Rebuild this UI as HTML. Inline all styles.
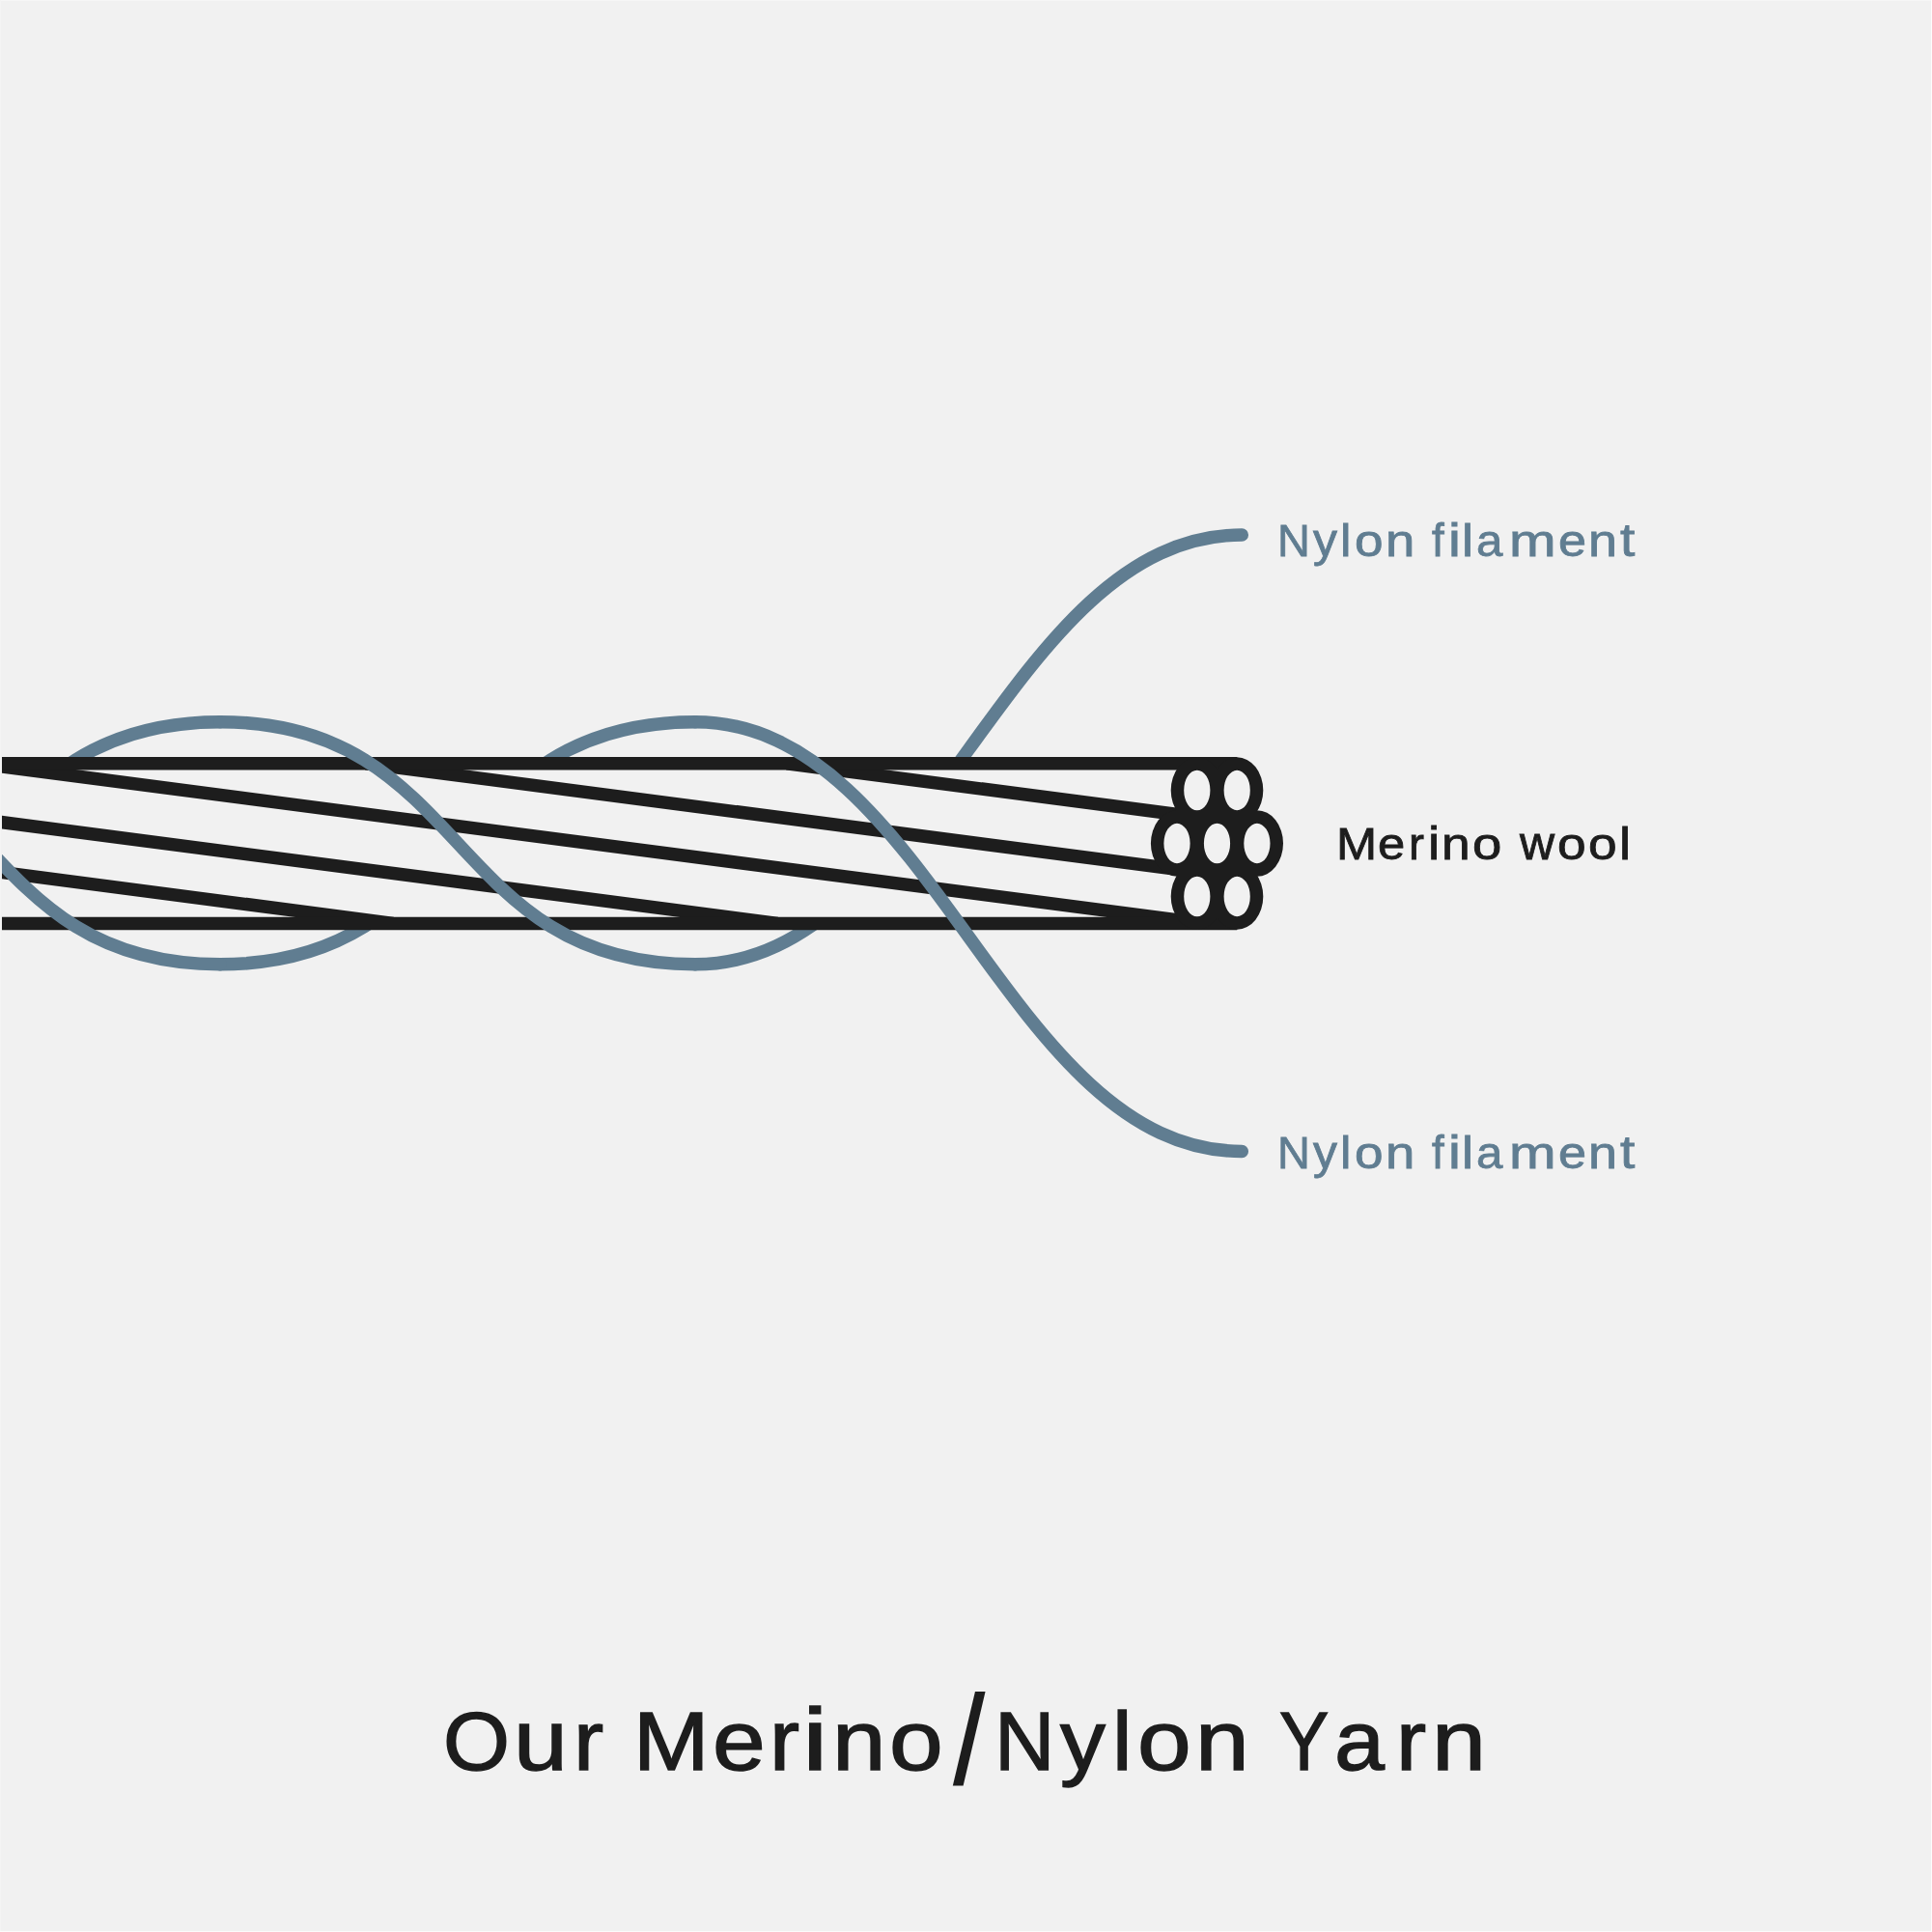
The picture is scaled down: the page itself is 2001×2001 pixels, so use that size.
<!DOCTYPE html>
<html><head><meta charset="utf-8"><style>
html,body{margin:0;padding:0;background:#f1f1f1;}
body{width:2001px;height:2001px;position:relative;overflow:hidden;font-family:"Liberation Sans",sans-serif;}
svg{position:absolute;left:0;top:0;}
#tx{position:absolute;left:0;top:0;width:2001px;height:2001px;will-change:transform;}
.t{position:absolute;white-space:pre;line-height:1;}
.t span{display:inline-block;transform-origin:0 var(--o);}
</style></head><body>
<svg width="2001" height="2001" viewBox="0 0 2001 2001">
<defs><clipPath id="cl"><rect x="2" y="0" width="1999" height="2001"/></clipPath></defs>
<g clip-path="url(#cl)">
<g fill="none" stroke="#607d91" stroke-width="13.5" stroke-linecap="round">
<path d="M-264.00,998.80 C-5.70,998.80 -30.30,747.70 228.00,747.70"/><path d="M228.00,998.80 C486.30,998.80 461.70,747.70 720.00,747.70"/><path d="M720.00,998.80 C964.40,998.80 1041.90,554.00 1286.30,554.00"/>
</g>
<rect x="0" y="790.7" width="1240" height="165.69999999999993" fill="#f1f1f1"/>
<g stroke="#1d1d1d" stroke-width="13.5" fill="none">
<clipPath id="yc"><rect x="0" y="783.95" width="1300" height="179.19999999999993"/></clipPath>
<g clip-path="url(#yc)"><line x1="-862.70" y1="790.7" x2="407.03" y2="956.4"/><line x1="-464.50" y1="790.7" x2="805.23" y2="956.4"/><line x1="-22.60" y1="790.7" x2="1247.13" y2="956.4"/><line x1="379.00" y1="790.7" x2="1648.73" y2="956.4"/><line x1="815.00" y1="790.7" x2="2084.73" y2="956.4"/></g>
<line x1="0" y1="790.7" x2="1281.2" y2="790.7"/>
<line x1="0" y1="956.4" x2="1281.2" y2="956.4"/>
</g>
<g fill="#1d1d1d"><path d="M1212.70,818.5 a27.1,34.2 0 1,0 54.20,0 a27.1,34.2 0 1,0 -54.20,0Z M1254.10,818.5 a27.1,34.2 0 1,0 54.20,0 a27.1,34.2 0 1,0 -54.20,0Z M1191.90,873.5 a27.1,34.2 0 1,0 54.20,0 a27.1,34.2 0 1,0 -54.20,0Z M1233.40,873.5 a27.1,34.2 0 1,0 54.20,0 a27.1,34.2 0 1,0 -54.20,0Z M1274.80,873.5 a27.1,34.2 0 1,0 54.20,0 a27.1,34.2 0 1,0 -54.20,0Z M1212.70,928.5 a27.1,34.2 0 1,0 54.20,0 a27.1,34.2 0 1,0 -54.20,0Z M1254.10,928.5 a27.1,34.2 0 1,0 54.20,0 a27.1,34.2 0 1,0 -54.20,0Z"/></g>
<g fill="#f1f1f1"><path d="M1226.20,818.5 a13.6,20.7 0 1,0 27.20,0 a13.6,20.7 0 1,0 -27.20,0Z M1267.60,818.5 a13.6,20.7 0 1,0 27.20,0 a13.6,20.7 0 1,0 -27.20,0Z M1205.40,873.5 a13.6,20.7 0 1,0 27.20,0 a13.6,20.7 0 1,0 -27.20,0Z M1246.90,873.5 a13.6,20.7 0 1,0 27.20,0 a13.6,20.7 0 1,0 -27.20,0Z M1288.30,873.5 a13.6,20.7 0 1,0 27.20,0 a13.6,20.7 0 1,0 -27.20,0Z M1226.20,928.5 a13.6,20.7 0 1,0 27.20,0 a13.6,20.7 0 1,0 -27.20,0Z M1267.60,928.5 a13.6,20.7 0 1,0 27.20,0 a13.6,20.7 0 1,0 -27.20,0Z"/></g>
<g fill="none" stroke="#607d91" stroke-width="13.5" stroke-linecap="round">
<path d="M-264.00,747.70 C-5.70,747.70 -30.30,998.80 228.00,998.80"/><path d="M228.00,747.70 C486.30,747.70 461.70,998.80 720.00,998.80"/><path d="M720.00,747.70 C964.40,747.70 1041.90,1192.40 1286.30,1192.40"/>
</g>
</g>
</svg>
<div id="tx"><div class="t" style="--o:39.372px;left:1322.657px;top:536.628px;font-size:46.5px;color:#607d91;-webkit-text-stroke:0.8px #607d91"><span style="transform:scale(1.0084,0.9817)">N</span><span style="margin-left:3.870px;transform:scale(1.0736,1.0173)">y</span><span style="margin-left:5.122px;transform:scale(1.1050,0.9855)">l</span><span style="margin-left:4.515px;transform:scale(1.1426,1.0070)">o</span><span style="margin-left:5.661px;transform:scale(1.1726,0.9992)">n</span><span> </span><span style="margin-left:9.217px;transform:scale(0.9826,1.0514)">f</span><span style="margin-left:3.951px;transform:scale(1.2482,1.0471)">i</span><span style="margin-left:3.865px;transform:scale(1.1664,0.9855)">l</span><span style="margin-left:4.892px;transform:scale(1.0573,1.0070)">a</span><span style="margin-left:7.931px;transform:scale(1.2552,0.9992)">m</span><span style="margin-left:12.470px;transform:scale(1.1229,1.0070)">e</span><span style="margin-left:4.895px;transform:scale(1.1580,0.9992)">n</span><span style="margin-left:6.992px;transform:scale(1.1835,1.0374)">t</span></div>
<div class="t" style="--o:39.372px;left:1383.787px;top:850.628px;font-size:46.5px;color:#1d1d1d;-webkit-text-stroke:0.8px #1d1d1d"><span style="transform:scale(1.0876,0.9910)">M</span><span style="margin-left:4.758px;transform:scale(1.0920,1.0031)">e</span><span style="margin-left:5.690px;transform:scale(1.0302,1.0031)">r</span><span style="margin-left:4.767px;transform:scale(1.1868,1.0383)">i</span><span style="margin-left:3.900px;transform:scale(1.1482,0.9952)">n</span><span style="margin-left:6.203px;transform:scale(1.1733,1.0031)">o</span><span> </span><span style="margin-left:9.945px;transform:scale(1.0763,1.0214)">w</span><span style="margin-left:5.435px;transform:scale(1.1470,1.0031)">o</span><span style="margin-left:6.139px;transform:scale(1.1470,1.0031)">o</span><span style="margin-left:6.332px;transform:scale(1.1664,0.9943)">l</span></div>
<div class="t" style="--o:39.372px;left:1322.657px;top:1170.628px;font-size:46.5px;color:#607d91;-webkit-text-stroke:0.8px #607d91"><span style="transform:scale(1.0084,0.9817)">N</span><span style="margin-left:3.870px;transform:scale(1.0736,1.0173)">y</span><span style="margin-left:5.122px;transform:scale(1.1050,0.9855)">l</span><span style="margin-left:4.515px;transform:scale(1.1426,1.0070)">o</span><span style="margin-left:5.661px;transform:scale(1.1726,0.9992)">n</span><span> </span><span style="margin-left:9.217px;transform:scale(0.9826,1.0514)">f</span><span style="margin-left:3.951px;transform:scale(1.2482,1.0471)">i</span><span style="margin-left:3.865px;transform:scale(1.1664,0.9855)">l</span><span style="margin-left:4.892px;transform:scale(1.0573,1.0070)">a</span><span style="margin-left:7.931px;transform:scale(1.2552,0.9992)">m</span><span style="margin-left:12.470px;transform:scale(1.1229,1.0070)">e</span><span style="margin-left:4.895px;transform:scale(1.1580,0.9992)">n</span><span style="margin-left:6.992px;transform:scale(1.1835,1.0374)">t</span></div>
<div class="t" style="--o:72.816px;left:459.320px;top:1760.184px;font-size:86.0px;color:#1d1d1d;-webkit-text-stroke:1.4px #1d1d1d"><span style="transform:scale(1.0315,0.9877)">O</span><span style="margin-left:6.081px;transform:scale(1.1678,1.0274)">u</span><span style="margin-left:13.827px;transform:scale(1.0873,1.0218)">r</span><span> </span><span style="margin-left:9.461px;transform:scale(1.0945,0.9922)">M</span><span style="margin-left:9.936px;transform:scale(1.1448,1.0176)">e</span><span style="margin-left:11.425px;transform:scale(1.0830,1.0261)">r</span><span style="margin-left:5.994px;transform:scale(1.3841,1.0505)">i</span><span style="margin-left:11.075px;transform:scale(1.1599,1.0197)">n</span><span style="margin-left:11.294px;transform:scale(1.1641,1.0218)">o</span><span style="margin-left:18.979px;transform:translateY(13.686px) scale(1.3126,1.5026)">/</span><span style="margin-left:18.499px;transform:scale(1.0053,0.9889)">N</span><span style="margin-left:5.816px;transform:scale(1.0904,1.0231)">y</span><span style="margin-left:11.306px;transform:scale(1.0716,0.9997)">l</span><span style="margin-left:6.564px;transform:scale(1.1641,1.0218)">o</span><span style="margin-left:12.721px;transform:scale(1.1652,1.0218)">n</span><span> </span><span style="margin-left:15.352px;transform:scale(0.8948,0.9955)">Y</span><span style="margin-left:-1.204px;transform:scale(1.0861,1.0218)">a</span><span style="margin-left:16.230px;transform:scale(1.0873,1.0218)">r</span><span style="margin-left:9.045px;transform:scale(1.1705,1.0218)">n</span></div></div>
<div style="position:absolute;left:0;top:0;width:2001px;height:1px;background:#f6f6f6"></div>
<div style="position:absolute;left:0;top:0;width:1px;height:2001px;background:#f4f4f4"></div>
<div style="position:absolute;left:2000px;top:0;width:1px;height:2001px;background:#fdfdfd"></div>
<div style="position:absolute;left:0;top:2000px;width:2001px;height:1px;background:#fbfbfb"></div>
</body></html>
